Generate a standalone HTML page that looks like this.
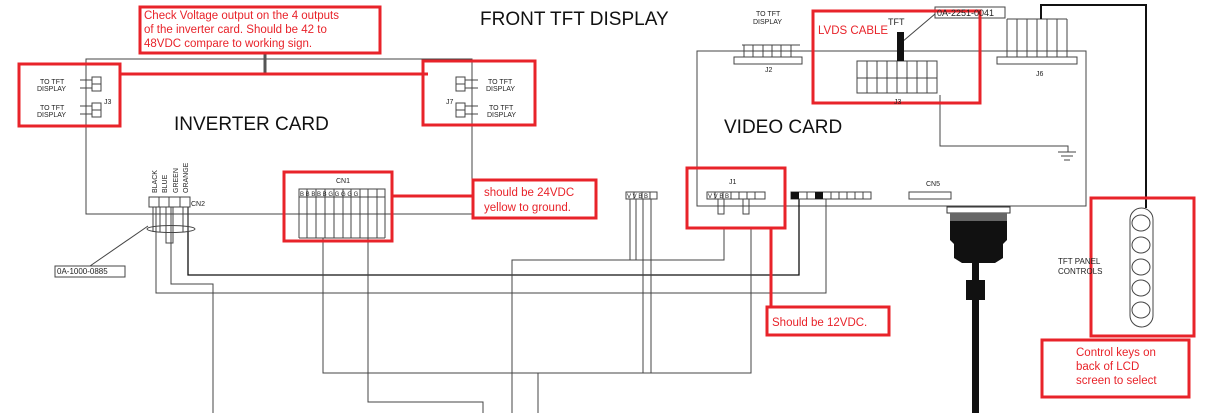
<!DOCTYPE html>
<html><head><meta charset="utf-8"><style>
html,body{margin:0;padding:0;background:#fff;width:1207px;height:413px;overflow:hidden}
svg{display:block;font-family:"Liberation Sans",sans-serif}
.r{font-family:"Liberation Sans",sans-serif;fill:#e8232a;font-size:11.5px}
.s{font-size:7px;fill:#222}
</style></head><body>
<svg width="1207" height="413" viewBox="0 0 1207 413" xmlns="http://www.w3.org/2000/svg">
<g fill="none" stroke="#444" stroke-width="1">
<!-- inverter card -->
<rect x="86" y="59" width="386" height="155"/>
<!-- video card -->
<rect x="697" y="51" width="389" height="155"/>
<!-- lower wiring -->
<path d="M171 207V284H213V413"/>
<path d="M156 207V293H826V199"/>
<path d="M188 207V275H799V199" stroke="#111" stroke-width="1.3"/>
<path d="M323 238V373H751V228"/>
<path d="M368 238V402H483V413"/>
<path d="M724 228V260H512V413"/>
<path d="M538 373V413"/>
<path d="M630 199V260M636 199V260M643 199V373M651 199V373"/>
<!-- ground -->
<path d="M940 95V146H1068V152M1058 152H1076M1061 156H1073M1064 160H1070"/>
<!-- J2 -->
<rect x="734" y="57" width="68" height="7"/>
<path d="M744 57V45M753 57V45M763 57V45M772 57V45M781 57V45M791 57V45M742 45H800"/>
<!-- J3 video -->
<rect x="857" y="61" width="80" height="32"/>
<path d="M857 78H937M867 61V93M877 61V93M887 61V93M897 61V93M907 61V93M917 61V93M927 61V93"/>
<!-- J6 -->
<rect x="997" y="57" width="80" height="7"/>
<path d="M1007 57V19M1017 57V19M1027 57V19M1037 57V19M1047 57V19M1057 57V19M1067 57V19M1007 19H1067"/>
<!-- J1 -->
<rect x="707" y="192" width="58" height="7"/>
<path d="M715 192V199M723 192V199M731 192V199M739 192V199M747 192V199M755 192V199"/>
<rect x="718" y="199" width="6" height="15"/><rect x="743" y="199" width="6" height="15"/>
<!-- black connector -->
<rect x="791" y="192" width="80" height="7"/>
<path d="M807 192V199M831 192V199M839 192V199M847 192V199M855 192V199M863 192V199"/>
<!-- CN5 -->
<rect x="909" y="192" width="42" height="7"/>
<!-- VVBB -->
<rect x="626" y="192" width="31" height="7"/>
<path d="M634 192V199M642 192V199M650 192V199"/>
<!-- CN1 -->
<rect x="299" y="189" width="86" height="8"/>
<path d="M307 189V238M316 189V238M325 189V238M334 189V238M343 189V238M351 189V238M360 189V238M368 189V238M377 189V238M299 197V238M385 197V238M299 238H385"/>
<!-- CN2 -->
<rect x="149" y="197" width="41" height="10"/>
<path d="M159 197V207M169 197V207M180 197V207M153 207V232M160 207V232M183 207V232M188 207V232"/>
<rect x="166" y="207" width="7" height="36"/>
<ellipse cx="171" cy="229" rx="24" ry="3.5"/>
<path d="M90 266L148 226"/>
<rect x="55" y="266" width="70" height="11"/>
<!-- J3 / J7 small connectors -->
<rect x="92" y="77" width="9" height="14"/><path d="M92 84H101M80 80H92M80 88H92"/>
<rect x="92" y="103" width="9" height="14"/><path d="M92 110H101M80 106H92M80 114H92"/>
<rect x="456" y="77" width="9" height="14"/><path d="M456 84H465M465 80H478M465 88H478"/>
<rect x="456" y="103" width="9" height="14"/><path d="M456 110H465M465 106H478M465 114H478"/>
<!-- part label box -->
<rect x="935" y="7" width="70" height="11"/>
<path d="M935 14L902 42"/>
<!-- oval keys -->
<rect x="1130" y="208" width="23" height="119" rx="11.5"/>
<ellipse cx="1141" cy="223" rx="9" ry="8"/><ellipse cx="1141" cy="245" rx="9" ry="8"/><ellipse cx="1141" cy="267" rx="9" ry="8"/><ellipse cx="1141" cy="288" rx="9" ry="8"/><ellipse cx="1141" cy="310" rx="9" ry="8"/>
</g>
<!-- black fills -->
<rect x="791" y="192" width="8" height="7" fill="#111"/><rect x="815" y="192" width="8" height="7" fill="#111"/>
<rect x="897" y="32" width="7" height="29" fill="#111"/>
<path d="M1041 19V5H1146V208" fill="none" stroke="#111" stroke-width="2"/>
<!-- DB connector & cable -->
<rect x="947" y="207" width="63" height="6" fill="#fff" stroke="#333"/>
<rect x="950" y="213" width="57" height="8" fill="#666"/>
<path d="M950 221H1007V240L1003 244V258L995 263H962L954 258V244L950 240Z" fill="#111"/>
<rect x="972" y="263" width="7" height="150" fill="#111"/>
<rect x="966" y="280" width="19" height="20" fill="#111"/>
<g stroke="#555" stroke-width="3" fill="none"><path d="M265 53V75"/></g>
<!-- red boxes -->
<g fill="none" stroke="#e8232a" stroke-width="3">
<rect x="140" y="7" width="240" height="46"/>
<rect x="19" y="64" width="101" height="62"/>
<rect x="423" y="61" width="112" height="64"/>
<path d="M120 74H428"/>
<rect x="284" y="172" width="108" height="69"/>
<rect x="473" y="180" width="123" height="38"/>
<path d="M392 196H473"/>
<rect x="813" y="11" width="167" height="92"/>
<rect x="687" y="168" width="98" height="60"/>
<path d="M771 228V307"/>
<rect x="767" y="307" width="122" height="28"/>
<rect x="1091" y="198" width="103" height="138"/>
<rect x="1042" y="340" width="147" height="57"/>
</g>
<!-- text -->
<text x="480" y="25" font-size="19" fill="#111">FRONT TFT DISPLAY</text>
<text x="174" y="130" font-size="19" fill="#111">INVERTER CARD</text>
<text x="724" y="133" font-size="19" fill="#111">VIDEO CARD</text>
<text class="r" x="144" y="19">Check Voltage output on the 4 outputs</text>
<text class="r" x="144" y="33">of the inverter card.  Should be 42 to</text>
<text class="r" x="144" y="47">48VDC compare to working sign.</text>
<text class="r" x="484" y="196">should be 24VDC</text>
<text class="r" x="484" y="211">yellow to ground.</text>
<text class="r" x="818" y="34">LVDS CABLE</text>
<text class="r" x="772" y="326">Should be 12VDC.</text>
<text class="r" x="1076" y="356">Control keys on</text>
<text class="r" x="1076" y="370">back of LCD</text>
<text class="r" x="1076" y="384">screen to select</text>
<g class="s">
<text x="40" y="84">TO TFT</text><text x="37" y="91">DISPLAY</text>
<text x="40" y="110">TO TFT</text><text x="37" y="117">DISPLAY</text>
<text x="104" y="104">J3</text>
<text x="488" y="84">TO TFT</text><text x="486" y="91">DISPLAY</text>
<text x="489" y="110">TO TFT</text><text x="487" y="117">DISPLAY</text>
<text x="446" y="104">J7</text>
<text x="756" y="16">TO TFT</text><text x="753" y="24">DISPLAY</text>
<text x="765" y="72">J2</text>
<text x="1036" y="76">J6</text>
<text x="894" y="104">J3</text>
<text x="729" y="184">J1</text>
<text x="926" y="186">CN5</text>
<text x="336" y="183">CN1</text>
<text x="191" y="206">CN2</text>
<text x="888" y="25" font-size="9">TFT</text>
<text x="937" y="16" font-size="9">0A-2251-0041</text>
<text x="57" y="274" font-size="8">0A-1000-0885</text>
<text x="1058" y="264" font-size="8">TFT PANEL</text>
<text x="1058" y="274" font-size="8">CONTROLS</text>
<text x="300" y="196" font-size="6">B B B B B G G G G G</text>
<text x="627" y="198" font-size="6">V V B B</text>
<text x="708" y="198" font-size="6">V V   B B</text>
<text transform="translate(157,193) rotate(-90)">BLACK</text>
<text transform="translate(167,193) rotate(-90)">BLUE</text>
<text transform="translate(178,193) rotate(-90)">GREEN</text>
<text transform="translate(188,193) rotate(-90)">ORANGE</text>
</g>
</svg>
</body></html>
